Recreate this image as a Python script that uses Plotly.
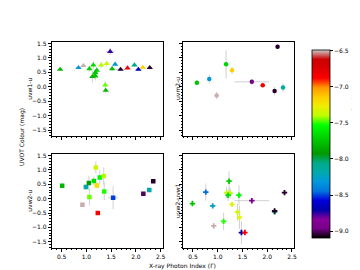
import plotly.graph_objects as go

FLUX_MIN = -9.09
FLUX_MAX = -6.48

# ---- Panel: uvw1-u (triangles) ----
w1u_gamma = [0.47, 0.84, 0.94, 1.06, 1.14, 1.21, 1.18, 1.17, 1.12, 1.18, 1.30, 1.41, 1.38, 1.39, 1.48, 1.52, 1.58, 1.69, 1.83, 1.97, 2.05, 2.14, 2.28]
w1u_colour = [0.60, 0.66, 0.73, 0.62, 0.75, 0.57, 0.49, 0.40, 0.35, 0.37, 0.75, 0.80, 0.06, -0.13, 1.22, 0.62, 0.78, 0.60, 0.65, 0.75, 0.60, 0.67, 0.66]
w1u_gamma_err = [0.05, 0.05, 0.04, 0.04, 0.04, 0.04, 0.04, 0.04, 0.04, 0.04, 0.04, 0.04, 0.04, 0.03, 0.08, 0.04, 0.04, 0.10, 0.04, 0.05, 0.06, 0.04, 0.05]
w1u_colour_err = [0.05, 0.05, 0.05, 0.10, 0.15, 0.10, 0.12, 0.12, 0.20, 0.15, 0.10, 0.10, 0.15, 0.08, 0.12, 0.08, 0.08, 0.05, 0.05, 0.06, 0.06, 0.05, 0.05]
w1u_flux = [-7.8, -8.3, -6.5, -7.7, -7.65, -7.7, -7.75, -7.7, -7.8, -7.75, -7.4, -7.35, -7.45, -7.8, -8.75, -7.75, -8.3, -9.05, -6.85, -8.05, -8.65, -7.15, -9.05]

# ---- Panel: uvm2-u (circles) ----
m2u_gamma = [0.58, 0.83, 0.98, 1.17, 1.29, 1.69, 1.91, 2.15, 2.21, 2.32]
m2u_colour = [0.14, 0.27, -0.30, 0.78, 0.57, 0.17, 0.05, -0.15, 1.39, -0.03]
m2u_gamma_err = [0.03, 0.03, 0.03, 0.03, 0.03, 0.35, 0.05, 0.03, 0.03, 0.03]
m2u_colour_err = [0.10, 0.15, 0.12, 0.48, 0.12, 0.10, 0.06, 0.15, 0.08, 0.15]
m2u_flux = [-7.75, -8.3, -6.5, -7.7, -7.15, -8.95, -6.85, -9.05, -9.05, -8.15]

# ---- Panel: uvw2-u (squares) ----
w2u_gamma = [0.51, 0.92, 0.99, 1.06, 1.05, 1.15, 1.19, 1.21, 1.27, 1.35, 1.36, 1.54, 1.23, 2.15, 2.27, 2.35]
w2u_colour = [0.45, -0.21, 0.41, 0.06, 0.55, 0.62, 1.09, 0.46, 0.74, 0.79, 0.25, 0.03, -0.50, 0.17, 0.30, 0.61]
w2u_gamma_err = [0.04, 0.04, 0.06, 0.03, 0.04, 0.04, 0.04, 0.04, 0.04, 0.04, 0.04, 0.10, 0.03, 0.04, 0.04, 0.06]
w2u_colour_err = [0.05, 0.06, 0.10, 0.30, 0.25, 0.15, 0.20, 0.10, 0.25, 0.30, 0.30, 0.40, 0.05, 0.05, 0.05, 0.05]
w2u_flux = [-7.8, -6.5, -8.2, -7.45, -7.9, -7.65, -7.35, -7.2, -7.55, -7.4, -7.5, -8.5, -6.85, -9.0, -8.2, -9.05]

# ---- Panel: uvw2-uvw1 (filled plus) ----
w2w1_gamma = [0.49, 0.76, 0.90, 0.92, 1.12, 1.18, 1.23, 1.25, 1.21, 1.29, 1.43, 1.40, 1.44, 1.48, 1.55, 1.69, 2.15, 2.15, 2.35]
w2w1_colour = [-0.17, 0.23, -0.25, -0.95, -0.79, 0.21, 0.61, 0.19, 0.12, -0.20, 0.12, -0.47, -0.65, -1.18, -1.18, -0.07, -0.46, -0.43, 0.21]
w2w1_gamma_err = [0.04, 0.03, 0.03, 0.04, 0.03, 0.03, 0.03, 0.03, 0.03, 0.03, 0.03, 0.03, 0.03, 0.03, 0.03, 0.35, 0.03, 0.03, 0.05]
w2w1_colour_err = [0.05, 0.30, 0.05, 0.04, 0.30, 0.20, 0.35, 0.20, 0.20, 0.05, 0.35, 0.30, 0.40, 0.40, 0.05, 0.05, 0.10, 0.08, 0.08]
w2w1_flux = [-7.75, -8.45, -8.25, -6.5, -7.5, -7.35, -7.7, -7.4, -7.65, -7.3, -7.55, -7.35, -7.3, -8.7, -6.85, -8.95, -8.0, -9.05, -9.05]

panel_labels = ["uvw1-u", "uvm2-u", "uvw2-u", "uvw2-uvw1"]
x_ticks = [0.5, 1.0, 1.5, 2.0, 2.5]
y_ticks = [-1.5, -1.0, -0.5, 0.0, 0.5, 1.0, 1.5]
cbar_ticks = [-9.0, -8.5, -8.0, -7.5, -7.0, -6.5]

# matplotlib nipy_spectral colormap stops
nps_pos = [i * 0.05 for i in range(21)]
nps_r = [0, .4667, .5333, 0, 0, 0, 0, 0, 0, 0, 0, 0, 0, .7333, .9333, 1, 1, 1, .8667, .8, .8]
nps_g = [0, 0, 0, 0, 0, .4667, .6, .6667, .6667, .6, .7333, .8667, 1, 1, .9333, .8, .6, 0, 0, 0, .8]
nps_b = [0, .5333, .6, .6667, .8667, .8667, .8667, .6667, .5333, 0, 0, 0, 0, 0, 0, 0, 0, 0, 0, 0, .8]
colorscale = [[p, "rgb(%d,%d,%d)" % (round(r * 255), round(g * 255), round(b * 255))]
              for p, r, g, b in zip(nps_pos, nps_r, nps_g, nps_b)]

W, H = 360, 270
FONT = "DejaVu Sans"
FS = 6

# pixel boxes of panels (left, right, top, bottom)
boxes = [(44, 156, 32, 127), (176, 288, 32, 127), (44, 156, 145, 239.5), (176, 288, 145, 239.5)]

panels = [
    (w1u_gamma, w1u_colour, w1u_gamma_err, w1u_colour_err, w1u_flux, "triangle-up", 5.5),
    (m2u_gamma, m2u_colour, m2u_gamma_err, m2u_colour_err, m2u_flux, "circle", 4.5),
    (w2u_gamma, w2u_colour, w2u_gamma_err, w2u_colour_err, w2u_flux, "square", 4.5),
    (w2w1_gamma, w2w1_colour, w2w1_gamma_err, w2w1_colour_err, w2w1_flux, "cross", 4.5),
]

fig = go.Figure()
ERR = "#c4c4c4"
for i, (gx, cy, gxe, cye, fl, sym, sz) in enumerate(panels):
    n = "" if i == 0 else str(i + 1)
    fig.add_trace(go.Scatter(
        x=gx, y=cy, mode="markers", xaxis="x" + n, yaxis="y" + n,
        error_x=dict(type="data", array=gxe, color=ERR, thickness=0.8, width=0),
        error_y=dict(type="data", array=cye, color=ERR, thickness=0.8, width=0),
        marker=dict(symbol=sym, size=sz, color=fl, coloraxis="coloraxis",
                    line=dict(width=0)),
        showlegend=False, hoverinfo="skip"))

layout = dict(
    width=W, height=H, margin=dict(l=0, r=0, t=0, b=0),
    paper_bgcolor="white", plot_bgcolor="white",
    font=dict(family=FONT, size=FS, color="black"),
    showlegend=False,
    coloraxis=dict(
        colorscale=colorscale, cmin=FLUX_MIN, cmax=FLUX_MAX,
        colorbar=dict(
            x=306 / W, xanchor="left", xpad=0, thickness=18,
            y=1 - 134.5 / H, yanchor="middle", ypad=0, len=189 / H, lenmode="fraction",
            outlinewidth=0.8, outlinecolor="black",
            tickvals=cbar_ticks, ticktext=["\u2212%.1f" % abs(v) for v in cbar_ticks],
            ticks="outside", ticklen=3, tickwidth=0.8, tickcolor="black",
            tickfont=dict(size=FS, family=FONT),
            title=dict(text="log 2-10keV Flux (ergs cm<sup>\u22122</sup> s<sup>\u22121</sup>)",
                       side="right", font=dict(size=FS, family=FONT)),
        ),
    ),
)

axis_common = dict(showgrid=False, zeroline=False, showline=True, linecolor="black",
                   linewidth=0.8, mirror=True, ticks="outside", ticklen=3, tickwidth=0.8,
                   tickcolor="black", tickfont=dict(size=FS, family=FONT))

for i, (l, r, t, b) in enumerate(boxes):
    n = "" if i == 0 else str(i + 1)
    xdom = [l / W, r / W]
    ydom = [1 - b / H, 1 - t / H]
    layout["xaxis" + n] = dict(
        axis_common, domain=xdom, range=[0.3, 2.55], anchor="y" + n,
        tickvals=x_ticks, ticktext=["%.1f" % v for v in x_ticks],
        showticklabels=(i >= 2),
        minor=dict(ticks="outside", ticklen=1.5, dtick=0.1, tick0=0, tickcolor="black", tickwidth=0.6))
    layout["yaxis" + n] = dict(
        axis_common, domain=ydom, range=[-1.71, 1.56], anchor="x" + n,
        tickvals=y_ticks, ticktext=[("\u2212%.1f" % abs(v)) if v < 0 else "%.1f" % v for v in y_ticks],
        showticklabels=(i % 2 == 0),
        minor=dict(ticks="outside", ticklen=1.5, dtick=0.1, tick0=0, tickcolor="black", tickwidth=0.6))

fig.update_layout(**layout)

label_x = [22, 171, 22, 171]
for i, (l, r, t, b) in enumerate(boxes):
    fig.add_annotation(text=panel_labels[i], xref="paper", yref="paper",
                       x=label_x[i] / W, y=1 - (t + b) / 2 / H, textangle=-90,
                       showarrow=False, font=dict(size=FS, family=FONT),
                       xanchor="center", yanchor="middle")

fig.add_annotation(text="UVOT Colour (mag)", xref="paper", yref="paper",
                   x=14 / W, y=1 - 128 / H, textangle=-90, showarrow=False,
                   font=dict(size=FS, family=FONT), xanchor="center", yanchor="middle")
fig.add_annotation(text="X-ray Photon Index (\u0393)", xref="paper", yref="paper",
                   x=175 / W, y=1 - 258 / H, showarrow=False,
                   font=dict(size=FS, family=FONT), xanchor="center", yanchor="middle")

fig.write_html("out.html")
